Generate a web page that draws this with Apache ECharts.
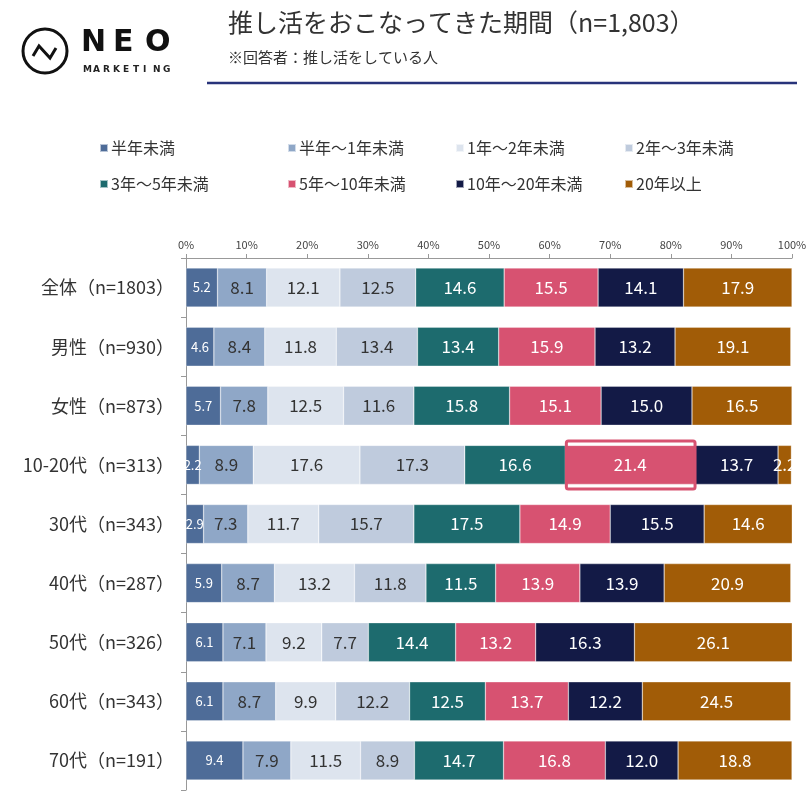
<!DOCTYPE html>
<html>
<head>
<meta charset="utf-8">
<script src="https://cdn.jsdelivr.net/npm/echarts@6/dist/echarts.min.js"></script>
<style>
  html, body { margin: 0; padding: 0; background: #fff; }
  #chart { width: 810px; height: 798px; }
</style>
</head>
<body>
<div id="chart"></div>
<script>
const categories = ['全体（n=1803）', '男性（n=930）', '女性（n=873）', '10-20代（n=313）', '30代（n=343）', '40代（n=287）', '50代（n=326）', '60代（n=343）', '70代（n=191）']
const seriesNames = ['半年未満', '半年～1年未満', '1年～2年未満', '2年～3年未満', '3年～5年未満', '5年～10年未満', '10年～20年未満', '20年以上']
const colors = ['#4e6c98', '#8fa7c7', '#dde4ee', '#bfcbdd', '#1d6b6e', '#d75271', '#131a46', '#a15c07']
const labelColors = ['#fff', '#333', '#333', '#333', '#fff', '#fff', '#fff', '#fff']

// one array per period, values per category (%)
const lessHalfYear = [5.2, 4.6, 5.7, 2.2, 2.9, 5.9, 6.1, 6.1, 9.4]
const halfTo1 = [8.1, 8.4, 7.8, 8.9, 7.3, 8.7, 7.1, 8.7, 7.9]
const y1to2 = [12.1, 11.8, 12.5, 17.6, 11.7, 13.2, 9.2, 9.9, 11.5]
const y2to3 = [12.5, 13.4, 11.6, 17.3, 15.7, 11.8, 7.7, 12.2, 8.9]
const y3to5 = [14.6, 13.4, 15.8, 16.6, 17.5, 11.5, 14.4, 12.5, 14.7]
const y5to10 = [15.5, 15.9, 15.1, 21.4, 14.9, 13.9, 13.2, 13.7, 16.8]
const y10to20 = [14.1, 13.2, 15.0, 13.7, 15.5, 13.9, 16.3, 12.2, 12.0]
const over20 = [17.9, 19.1, 16.5, 2.2, 14.6, 20.9, 26.1, 24.5, 18.8]
const allValues = [lessHalfYear, halfTo1, y1to2, y2to3, y3to5, y5to10, y10to20, over20]

const xTicks = [0, 10, 20, 30, 40, 50, 60, 70, 80, 90, 100]

// highlighted cell: 10-20代 / 5年～10年未満
const hlRow = 3
const hlSeries = 5

const chart = echarts.init(document.getElementById('chart'))
const FONT = '"Noto Sans CJK JP", sans-serif'
const BAR_W = 39

let hlStart = 0
for (let i = 0; i < hlSeries; i++) hlStart += allValues[i][hlRow]
const hlEnd = hlStart + allValues[hlSeries][hlRow]

const barSeries = seriesNames.map((name, i) => ({
  name: name,
  type: 'bar',
  stack: 'total',
  barWidth: BAR_W,
  data: allValues[i],
  itemStyle: { color: colors[i], borderColor: 'rgba(255,255,255,0.6)', borderWidth: 0.5 },
  label: {
    show: true,
    position: 'inside',
    color: labelColors[i],
    fontSize: i === 0 ? 13 : 17,
    fontFamily: FONT,
    formatter: p => p.value.toFixed(1)
  }
}))

// MARKETING letters
const mkLetters = 'MARKETING'.split('').map((ch, i) => ({
  type: 'text',
  left: 83 + i * 10,
  top: 65,
  style: { text: ch, font: 'bold 9px "DejaVu Sans"', fill: '#222' }
}))

const option = {
  backgroundColor: '#fff',
  animation: false,
  textStyle: { fontFamily: FONT },
  legend: [0, 1, 2, 3].map((c, i) => ({
    orient: 'vertical',
    left: [94, 282, 450, 619][i],
    top: 135,
    itemWidth: 8,
    itemHeight: 8,
    itemGap: 20,
    icon: 'rect',
    selectedMode: false,
    data: [seriesNames[c], seriesNames[c + 4]],
    textStyle: { fontSize: 16, color: '#333', fontFamily: FONT, padding: [0, 0, 0, -2] }
  })),
  grid: { left: 186, right: 18, top: 258, bottom: 8 },
  xAxis: {
    type: 'value',
    position: 'top',
    min: xTicks[0],
    max: xTicks[xTicks.length - 1],
    interval: 10,
    axisLine: { show: true, lineStyle: { color: '#999' } },
    axisTick: { show: true, length: 4, lineStyle: { color: '#999' } },
    splitLine: { show: false },
    axisLabel: { formatter: '{value}%', fontSize: 11, color: '#444', margin: 8 }
  },
  yAxis: {
    type: 'category',
    inverse: true,
    data: categories,
    axisLine: { show: true, lineStyle: { color: '#999' } },
    axisTick: { show: true, length: 5, lineStyle: { color: '#999' } },
    axisLabel: { fontSize: 18, color: '#333', margin: 12, fontFamily: FONT }
  },
  series: barSeries.concat([{
    type: 'custom',
    name: 'highlight',
    silent: true,
    z: 10,
    data: [[hlStart, hlEnd, hlRow]],
    encode: { x: [0, 1], y: 2 },
    renderItem: (params, api) => {
      const s = api.coord([api.value(0), api.value(2)])
      const e = api.coord([api.value(1), api.value(2)])
      return {
        type: 'rect',
        shape: { x: s[0] + 1, y: s[1] - BAR_W / 2 - 4.5, width: e[0] - s[0] - 1, height: BAR_W + 9, r: 2 },
        style: { fill: 'none', stroke: colors[hlSeries], lineWidth: 3 }
      }
    }
  }]),
  graphic: [
    { type: 'circle', shape: { cx: 45, cy: 51, r: 22 }, style: { fill: 'none', stroke: '#111', lineWidth: 3 } },
    { type: 'polyline', shape: { points: [[33, 56], [39, 46], [50, 58], [56, 48]] }, style: { fill: 'none', stroke: '#111', lineWidth: 3 } },
    { type: 'text', left: 81, top: 28, style: { text: 'N', font: 'bold 30px "DejaVu Sans"', fill: '#111' } },
    { type: 'text', left: 113, top: 28, style: { text: 'E', font: 'bold 30px "DejaVu Sans"', fill: '#111' } },
    { type: 'text', left: 145, top: 28, style: { text: 'O', font: 'bold 30px "DejaVu Sans"', fill: '#111' } },
    ...mkLetters,
    { type: 'text', left: 228, top: 10, style: { text: '推し活をおこなってきた期間（n=1,803）', font: '25px ' + FONT, fill: '#333' } },
    { type: 'text', left: 228, top: 50, style: { text: '※回答者：推し活をしている人', font: '15px ' + FONT, fill: '#333' } },
    { type: 'line', shape: { x1: 207, y1: 83, x2: 797, y2: 83 }, style: { stroke: '#28337a', lineWidth: 2.5 } }
  ]
}

chart.setOption(option)
</script>
</body>
</html>
